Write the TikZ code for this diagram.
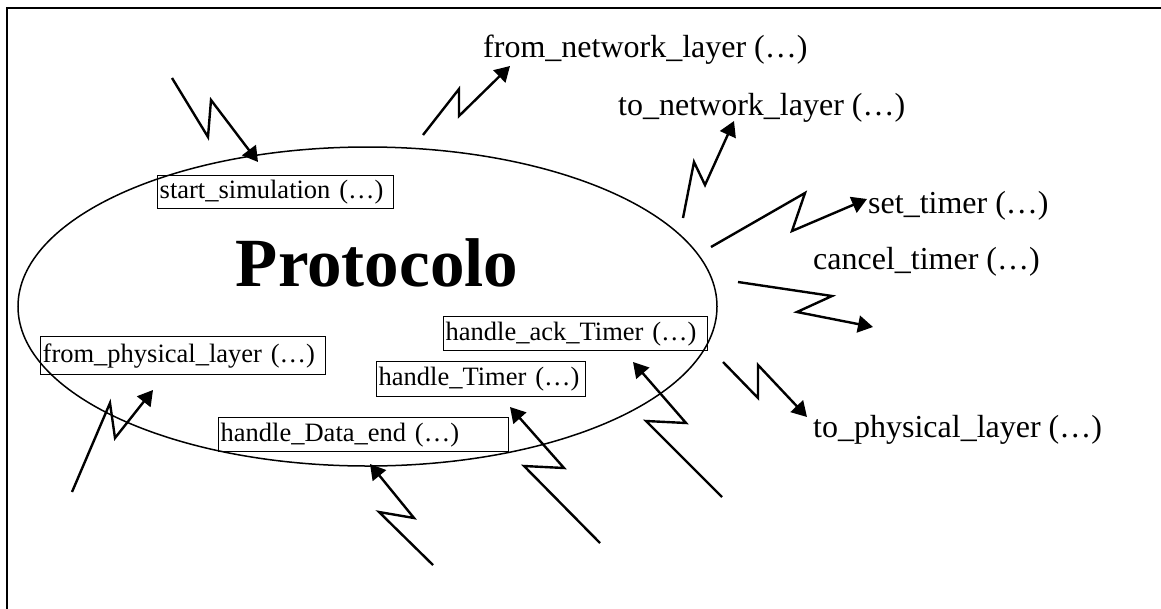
\documentclass[tikz,border=0pt]{standalone}
\usepackage{fontspec}
\setmainfont{Liberation Serif}
\usetikzlibrary{arrows.meta}
\begin{document}
\begin{tikzpicture}[x=1pt,y=-1pt,
  lbl/.style={font=\fontsize{32}{36}\selectfont, anchor=base west, inner sep=0pt},
  fnbox/.style={draw, line width=1.4pt, anchor=north west, font=\fontsize{26.5}{30}\selectfont, inner xsep=2pt, inner ysep=0pt, align=left},
  bolt/.style={line width=2.4pt, -{Triangle[length=15pt,width=17pt]}, line join=miter},
  thin/.style={line width=1.5pt}
]
\useasboundingbox (0,0) rectangle (1161,608);
\clip (0,0) rectangle (1161,608);
% frame
\draw[thin] (7,8) rectangle (1185,630);
% ellipse
\draw[thin] (367.5,306.5) ellipse [x radius=349.5pt, y radius=159.5pt];
\node[font=\bfseries\fontsize{69}{73}\selectfont, anchor=base, inner sep=0pt] (proto) at (377,286) {Protocolo};

% boxed functions
\node[fnbox, text width=232pt, minimum height=33pt] (ss) at (157,175) {start\_simulation (…)};
\node[fnbox, text width=281pt, minimum height=38pt] (fpl) at (40,336) {from\_physical\_layer (…)};
\node[fnbox, text width=260pt, minimum height=34pt] (hat) at (443,316) {handle\_ack\_Timer (…)};
\node[fnbox, text width=205pt, minimum height=35pt] (ht) at (376,361) {handle\_Timer (…)};
\node[fnbox, text width=286pt, minimum height=34pt] (hde) at (218,417) {handle\_Data\_end (…)};

% free labels
\node[lbl] (fnl) at (483,57) {from\_network\_layer (…)};
\node[lbl] (tnl) at (618,115) {to\_network\_layer (…)};
\node[lbl] (st) at (868,213) {set\_timer (…)};
\node[lbl] (ct) at (813,269) {cancel\_timer (…)};
\node[lbl] (tpl) at (813,437) {to\_physical\_layer (…)};

% bolt points
\coordinate (a1) at (172,78);  \coordinate (a2) at (208,137); \coordinate (a3) at (211,100); \coordinate (a4) at (258,162);
\coordinate (b1) at (423,135); \coordinate (b2) at (459,89);  \coordinate (b3) at (459,116); \coordinate (b4) at (510,66);
\coordinate (c1) at (683,218); \coordinate (c2) at (694,162); \coordinate (c3) at (705,185); \coordinate (c4) at (734,121);
\coordinate (d1) at (711,247); \coordinate (d2) at (805,193); \coordinate (d3) at (792,231); \coordinate (d4) at (867,199);
\coordinate (e1) at (738,282); \coordinate (e2) at (832,296); \coordinate (e3) at (797,312); \coordinate (e4) at (873,327);
\coordinate (f1) at (723,362); \coordinate (f2) at (758,398); \coordinate (f3) at (758,365); \coordinate (f4) at (807,417);
\coordinate (g1) at (72,492);  \coordinate (g2) at (110,403); \coordinate (g3) at (115,438); \coordinate (g4) at (153,390);
\coordinate (h1) at (433,565); \coordinate (h2) at (379,512); \coordinate (h3) at (414,518); \coordinate (h4) at (370,464);
\coordinate (i1) at (600,543); \coordinate (i2) at (524,466); \coordinate (i3) at (564,468); \coordinate (i4) at (510,407);
\coordinate (j1) at (722,497); \coordinate (j2) at (646,421); \coordinate (j3) at (686,423); \coordinate (j4) at (633,362);

\foreach \p in {a,b,c,d,e,f,g,h,i,j}
  \draw[bolt] (\p1) -- (\p2) -- (\p3) -- (\p4);
\end{tikzpicture}
\end{document}
